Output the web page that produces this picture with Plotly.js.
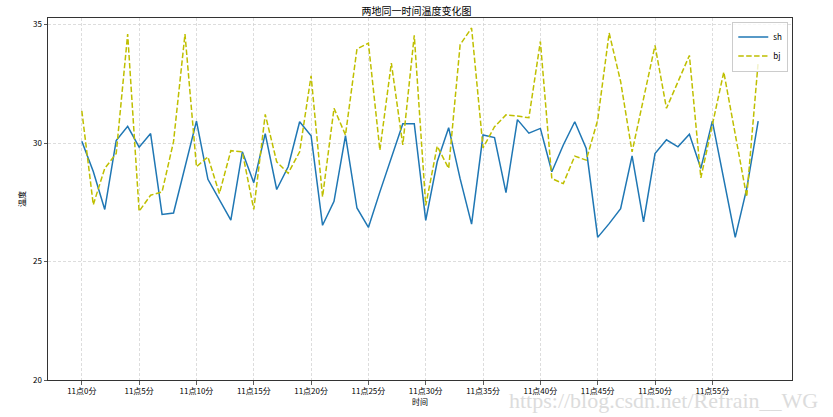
<!DOCTYPE html>
<html>
<head>
<meta charset="utf-8">
<script src="https://cdn.plot.ly/plotly-3.0.1.min.js"></script>
<style>html,body{margin:0;padding:0;background:#fff;}#chart{width:833px;height:417px;}</style>
</head>
<body>
<div id="chart"></div>
<script>
var minutes = [];
for (var m = 0; m < 60; m++) { minutes.push("11点" + m + "分"); }

var shTemps = [30.08, 28.8, 27.2, 30.11, 30.71, 29.83, 30.4, 26.99, 27.05, 29.0,
               30.93, 28.47, 27.58, 26.75, 29.63, 28.33, 30.4, 28.04, 29.0, 30.9,
               30.31, 26.53, 27.54, 30.31, 27.26, 26.44, 27.94, 29.41, 30.82, 30.82,
               26.74, 29.21, 30.65, 28.5, 26.58, 30.34, 30.23, 27.91, 30.99, 30.42,
               30.62, 28.79, 29.92, 30.9, 29.77, 26.02, 26.6, 27.23, 29.46, 26.67,
               29.56, 30.14, 29.84, 30.37, 28.93, 30.93, 28.48, 26.02, 28.08, 30.93];

var bjTemps = [31.36, 27.4, 28.93, 29.56, 34.6, 27.12, 27.8, 27.94, 30.06, 34.6,
               29.0, 29.42, 27.87, 29.68, 29.63, 27.2, 31.21, 29.21, 28.73, 29.63,
               32.84, 27.73, 31.47, 30.34, 33.97, 34.22, 29.7, 33.38, 29.92, 34.55,
               27.37, 29.87, 28.93, 34.15, 34.86, 29.8, 30.69, 31.19, 31.14, 31.07,
               34.29, 28.5, 28.29, 29.45, 29.28, 30.97, 34.65, 32.6, 29.63, 31.88,
               34.12, 31.47, 32.6, 33.7, 28.53, 30.79, 33.0, 30.37, 27.73, 33.42];

var xTickLabels = minutes.filter(function (_, i) { return i % 5 === 0; });
var yTickValues = [20, 25, 30, 35];

var cjk = '"Noto Sans CJK SC", "DejaVu Sans", sans-serif';

var traces = [
  {x: minutes, y: shTemps, name: 'sh', type: 'scatter', mode: 'lines',
   line: {color: '#1f77b4', width: 1.5}},
  {x: minutes, y: bjTemps, name: 'bj', type: 'scatter', mode: 'lines',
   line: {color: '#bfbf00', width: 1.5, dash: '5.5px,2.4px'}}
];

var layout = {
  width: 833, height: 417,
  margin: {l: 48, r: 41, t: 18, b: 37, pad: 0},
  paper_bgcolor: '#ffffff', plot_bgcolor: '#ffffff',
  font: {family: cjk, size: 8, color: '#000'},
  title: {text: '两地同一时间温度变化图', font: {family: cjk, size: 10, color: '#000'},
          x: 0.5, xanchor: 'center', y: 1, yref: 'paper', yanchor: 'bottom', pad: {b: 3}},
  xaxis: {
    type: 'category', range: [-2.95, 61.95],
    tickmode: 'array', tickvals: xTickLabels, ticktext: xTickLabels,
    showgrid: true, gridcolor: '#cfcfcf', griddash: '3px,2px', gridwidth: 0.7,
    showline: true, mirror: true, linecolor: '#333', linewidth: 1,
    ticks: 'outside', ticklen: 3.5, tickcolor: '#333', tickwidth: 0.8,
    tickfont: {family: cjk, size: 8, color: '#000'},
    zeroline: false,
    title: {text: '时间', font: {family: cjk, size: 8, color: '#000'}, standoff: 4}
  },
  yaxis: {
    range: [20, 35.28],
    tickmode: 'array', tickvals: yTickValues,
    showgrid: true, gridcolor: '#cfcfcf', griddash: '3px,2px', gridwidth: 0.7,
    showline: true, mirror: true, linecolor: '#333', linewidth: 1,
    ticks: 'outside', ticklen: 3.5, tickcolor: '#333', tickwidth: 0.8,
    tickfont: {family: cjk, size: 8, color: '#000'},
    zeroline: false,
    title: {text: '温度', font: {family: cjk, size: 8, color: '#000'}, standoff: 6}
  },
  showlegend: true,
  legend: {x: 0.995, y: 0.99, xanchor: 'right', yanchor: 'top',
           bgcolor: 'rgba(255,255,255,0.8)', bordercolor: '#ccc', borderwidth: 1,
           itemwidth: 30, font: {family: cjk, size: 8, color: '#000'}, tracegroupgap: 0},
  annotations: [{
    text: 'https://blog.csdn.net/Refrain__WG', xref: 'paper', yref: 'paper',
    x: 1.038, y: -0.098, xanchor: 'right', yanchor: 'bottom', showarrow: false,
    font: {family: '"Liberation Serif", serif', size: 22, color: '#dcdcdc'}
  }]
};

Plotly.newPlot('chart', traces, layout, {displayModeBar: false, staticPlot: true});
</script>
</body>
</html>
